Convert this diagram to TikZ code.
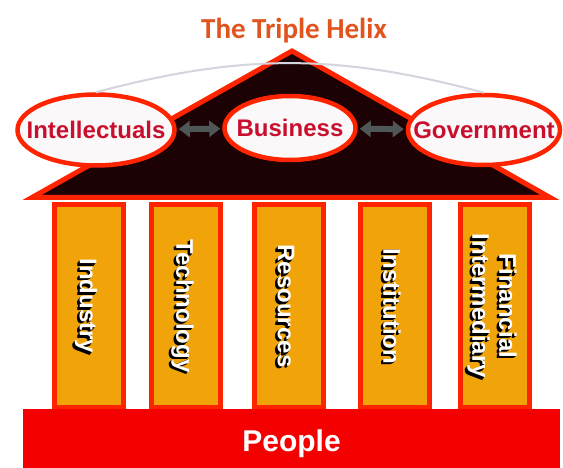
\documentclass[tikz,border=0pt]{standalone}
\usepackage{fontspec}
\setmainfont{Liberation Sans}
\newfontfamily\titlefont{Carlito}
\usetikzlibrary{shapes.geometric,arrows.meta}
\definecolor{helixred}{RGB}{255,36,0}
\definecolor{basered}{RGB}{245,0,0}
\definecolor{pillarorange}{RGB}{240,164,10}
\definecolor{roofdark}{RGB}{28,2,4}
\definecolor{crimson}{RGB}{200,16,46}
\definecolor{titleorange}{RGB}{226,84,30}
\definecolor{arrowgray}{RGB}{78,86,86}
\definecolor{arcgray}{RGB}{212,212,222}
\definecolor{partnerfill}{RGB}{250,248,248}
\begin{document}
\begin{tikzpicture}[x=1pt,y=-1pt,
    partner/.style={ellipse, draw=helixred, line width=4.5pt, fill=partnerfill, inner sep=0pt},
    partnertext/.style={font=\bfseries\fontsize{24}{28}\selectfont, text=crimson},
    link/.style={{Triangle[length=11pt,width=16pt]}-{Triangle[length=11pt,width=16pt]}, line width=6pt, draw=arrowgray, shorten <=2pt, shorten >=2pt},
    pillar/.style={rectangle, draw=helixred, fill=pillarorange, line width=5pt, minimum width=69pt, minimum height=203pt, inner sep=0pt},
    pillartext/.style={rotate=-90, align=center, font=\bfseries\fontsize{24}{27}\selectfont, text=white},
    pillarshade/.style={pillartext, text=black}]
    \useasboundingbox (0,0) rectangle (563,468);
    \fill[white] (0,0) rectangle (563,468);

    \node[font=\titlefont\bfseries\fontsize{29}{34}\selectfont, text=titleorange] (title) at (294,31) {The Triple Helix};

    \foreach \cx/\name/\txt in {89/industry/Industry, 185.5/technology/Technology, 289/resources/Resources, 395/institution/Institution, 495/financial/{Financial\\Intermediary}}{
        \node[pillar] (\name) at (\cx,306) {};
        \foreach \s in {1,2,3}
            \node[pillarshade] (\name-shade\s) at ([xshift=-3pt-0.8*\s pt,yshift=-0.8*\s pt]\name.center) {\txt};
        \node[pillartext] (\name-text) at ([xshift=-3pt]\name.center) {\txt};
    }

    \node[fill=basered, minimum width=537pt, minimum height=59pt, inner sep=0pt] (base) at (291.5,438.5) {};
    \node[font=\bfseries\fontsize{30}{34}\selectfont, text=white] (people) at (291.5,444) {People};

    \draw[draw=helixred, fill=roofdark, line width=5pt] (32,197.5) -- (292,51) -- (550,197.5) -- cycle;

    \node[partner, minimum width=157pt, minimum height=71pt, label={[partnertext]center:Intellectuals}] (intel) at (96,130) {};
    \node[partner, minimum width=131pt, minimum height=64pt, label={[partnertext]center:Business}] (bus) at (290,128) {};
    \node[partner, minimum width=152pt, minimum height=70pt, label={[partnertext]center:Government}] (gov) at (484,130) {};

    \draw[arcgray, line width=2pt] (intel.north) to[bend left=15] (gov.north);
    \draw[link] (intel) -- (bus);
    \draw[link] (bus) -- (gov);
\end{tikzpicture}
\end{document}
